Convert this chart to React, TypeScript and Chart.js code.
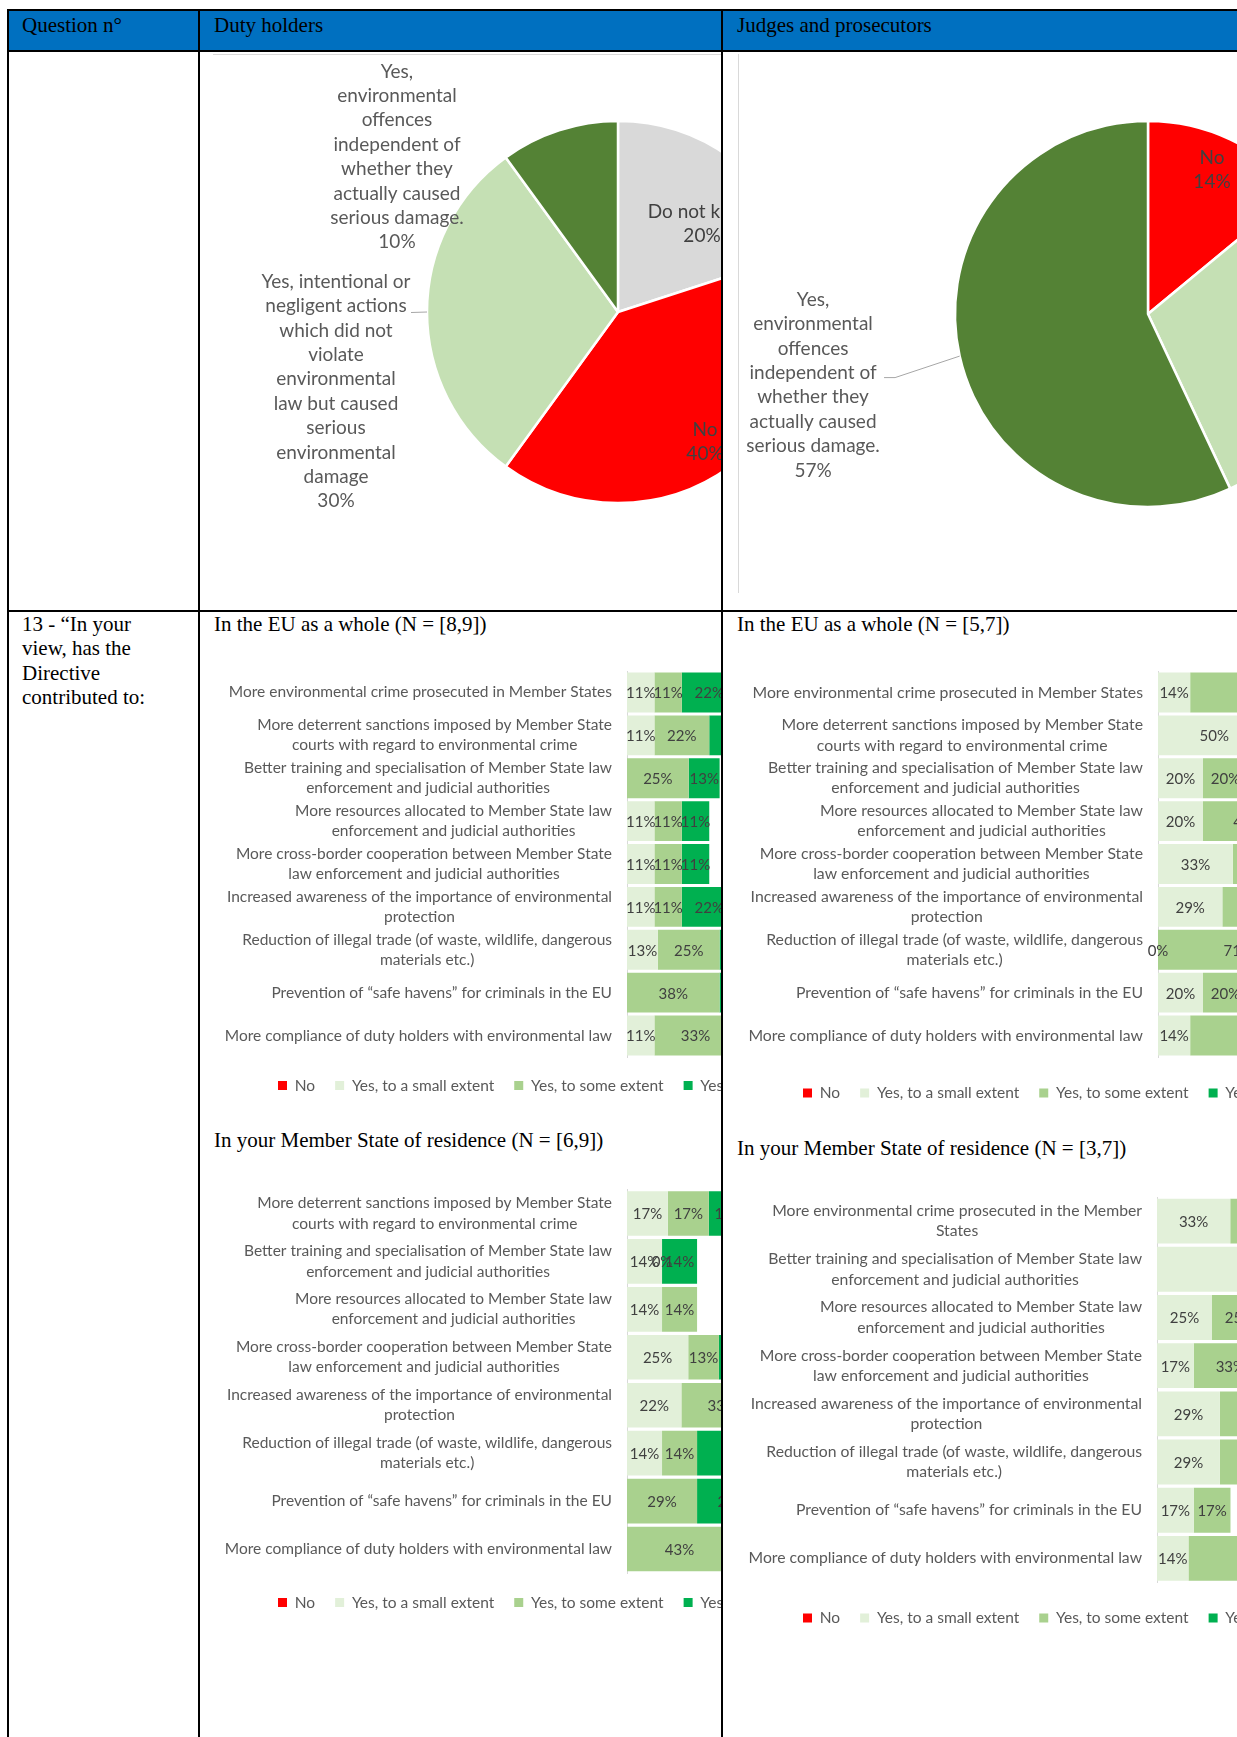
import React, { useEffect, useRef } from "react";
import { Chart, registerables } from "chart.js";

Chart.register(...registerables);

const SANS = "Lato, 'Open Sans', sans-serif";
const SERIF = "'Liberation Serif', 'Times New Roman', serif";

// ---------------- DATA ----------------
const PIE_DUTY_CATEGORIES = [
  "Do not know",
  "No",
  "Yes, intentional or negligent actions which did not violate environmental law but caused serious environmental damage",
  "Yes, environmental offences independent of whether they actually caused serious damage.",
];
const PIE_DUTY_VALUES = [20, 40, 30, 10];

const PIE_JUDGES_CATEGORIES = [
  "No",
  "Yes, intentional or negligent actions which did not violate environmental law but caused serious environmental damage",
  "Yes, environmental offences independent of whether they actually caused serious damage.",
];
const PIE_JUDGES_VALUES = [14, 29, 57];

const SERIES_NAMES = ["No", "Yes, to a small extent", "Yes, to some extent", "Yes, to a great extent"];

const CAT_PROSECUTED = "More environmental crime prosecuted in Member States";
const CAT_PROSECUTED_MS = ["More environmental crime prosecuted in the Member", "States"];
const CAT_DETERRENT = ["More deterrent sanctions imposed by Member State", "courts with regard to environmental crime"];
const CAT_TRAINING = ["Better training and specialisation of Member State law", "enforcement and judicial authorities"];
const CAT_RESOURCES = ["More resources allocated to Member State law", "enforcement and judicial authorities"];
const CAT_CROSSBORDER = ["More cross-border cooperation between Member State", "law enforcement and judicial authorities"];
const CAT_AWARENESS = ["Increased awareness of the importance of environmental", "protection"];
const CAT_TRADE = ["Reduction of illegal trade (of waste, wildlife, dangerous", "materials etc.)"];
const CAT_HAVENS = "Prevention of \u201csafe havens\u201d for criminals in the EU";
const CAT_COMPLIANCE = "More compliance of duty holders with environmental law";

const EU_CATEGORIES = [
  CAT_PROSECUTED, CAT_DETERRENT, CAT_TRAINING, CAT_RESOURCES, CAT_CROSSBORDER,
  CAT_AWARENESS, CAT_TRADE, CAT_HAVENS, CAT_COMPLIANCE,
];
const MS_DUTY_CATEGORIES = [
  CAT_DETERRENT, CAT_TRAINING, CAT_RESOURCES, CAT_CROSSBORDER,
  CAT_AWARENESS, CAT_TRADE, CAT_HAVENS, CAT_COMPLIANCE,
];
const MS_JUDGES_CATEGORIES = [
  CAT_PROSECUTED_MS, CAT_TRAINING, CAT_RESOURCES, CAT_CROSSBORDER,
  CAT_AWARENESS, CAT_TRADE, CAT_HAVENS, CAT_COMPLIANCE,
];

// Duty holders - EU as a whole (percent)
const EU_DUTY_NO = [null, null, null, null, null, null, null, null, null];
const EU_DUTY_SMALL = [11.1, 11.1, null, 11.1, 11.1, 11.1, 12.5, null, 11.1];
const EU_DUTY_SOME = [11.1, 22.2, 25, 11.1, 11.1, 11.1, 25, 37.5, 33.3];
const EU_DUTY_GREAT = [22.2, 22.2, 12.5, 11.1, 11.1, 22.2, 12.5, 12.5, 22.2];

// Judges and prosecutors - EU as a whole
const EU_JUDGES_NO = [null, null, null, null, null, null, null, null, null];
const EU_JUDGES_SMALL = [14.3, 50, 20, 20, 33.3, 28.6, 0, 20, 14.3];
const EU_JUDGES_SOME = [57.1, 25, 20, 40, 33.3, 42.9, 71.4, 20, 57.1];
const EU_JUDGES_GREAT = [14.3, 25, 40, 20, 16.7, 14.3, 14.3, 40, 14.3];

// Duty holders - Member State of residence
const MS_DUTY_NO = [null, null, null, null, null, null, null, null];
const MS_DUTY_SMALL = [16.7, 14.3, 14.3, 25, 22.2, 14.3, null, null];
const MS_DUTY_SOME = [16.7, 0, 14.3, 12.5, 33.3, 14.3, 28.6, 42.9];
const MS_DUTY_GREAT = [16.7, 14.3, null, 12.5, 11.1, 42.9, 28.6, 14.3];

// Judges and prosecutors - Member State of residence
const MS_JUDGES_NO = [null, null, null, null, null, null, null, null];
const MS_JUDGES_SMALL = [33.3, 100, 25, 16.7, 28.6, 28.6, 16.7, 14.3];
const MS_JUDGES_SOME = [33.3, null, 25, 33.3, 42.9, 42.9, 16.7, 57.1];
const MS_JUDGES_GREAT = [33.3, null, 25, 16.7, 14.3, 14.3, null, 14.3];

// ---------------- STYLES ----------------
const SERIES_COLORS = ["#FF0000", "#E2F0D9", "#A9D18E", "#00B050"];
const PIE_DUTY_COLORS = ["#D9D9D9", "#FF0000", "#C5E0B4", "#548235"];
const PIE_JUDGES_COLORS = ["#FF0000", "#C5E0B4", "#548235"];

const LINES_INTENTIONAL = ["Yes, intentional or", "negligent actions", "which did not", "violate", "environmental", "law but caused", "serious", "environmental", "damage"];
const LINES_OFFENCES = ["Yes,", "environmental", "offences", "independent of", "whether they", "actually caused", "serious damage."];

type LabelSpec = { lines: string[]; f: number; dx: number; dy: number; color: string; leader?: number[][] };

const PIE_DUTY_SPECS: LabelSpec[] = [
  { lines: ["Do not know"], f: 0, dx: 84, dy: -88, color: "#404040" },
  { lines: ["No"], f: 0, dx: 87, dy: 130, color: "#404040" },
  { lines: LINES_INTENTIONAL, f: 1, dx: -91, dy: 79.5, color: "#595959", leader: [[75, -79]] },
  { lines: LINES_OFFENCES, f: 1, dx: -162, dy: 26.6, color: "#595959" },
];
const PIE_JUDGES_SPECS: LabelSpec[] = [
  { lines: ["No"], f: 0, dx: 64, dy: -144, color: "#404040" },
  { lines: LINES_INTENTIONAL, f: 1, dx: 110, dy: 20, color: "#595959" },
  { lines: LINES_OFFENCES, f: 1, dx: -146.6, dy: 29, color: "#595959", leader: [[82, -7.5], [71, -7.5]] },
];

// ---------------- PLUGINS ----------------
function makePieLabels(specs: LabelSpec[]) {
  return {
    id: "pieLabels",
    afterDatasetsDraw(chart: any) {
      const ctx = chart.ctx;
      const meta = chart.getDatasetMeta(0);
      const values = chart.data.datasets[0].data;
      const lh = 24.4;
      meta.data.forEach((arc: any, i: number) => {
        const s = specs[i];
        if (!s) return;
        const p = arc.getProps(["x", "y", "startAngle", "endAngle", "outerRadius"], true);
        const mid = (p.startAngle + p.endAngle) / 2;
        const ex = p.x + Math.cos(mid) * p.outerRadius;
        const ey = p.y + Math.sin(mid) * p.outerRadius;
        const bx = p.x + Math.cos(mid) * p.outerRadius * s.f;
        const by = p.y + Math.sin(mid) * p.outerRadius * s.f;
        const ax = bx + s.dx;
        const ay = by + s.dy;
        ctx.save();
        if (s.leader) {
          ctx.strokeStyle = "#A6A6A6";
          ctx.lineWidth = 1;
          ctx.beginPath();
          ctx.moveTo(ex, ey);
          s.leader.forEach(([lx, ly]) => ctx.lineTo(ax + lx, ay + ly));
          ctx.stroke();
        }
        const lines = [...s.lines, `${values[i]}%`];
        ctx.font = `19px ${SANS}`;
        ctx.fillStyle = s.color;
        ctx.textAlign = "center";
        ctx.textBaseline = "middle";
        lines.forEach((ln, k) => ctx.fillText(ln, ax, ay + (k - (lines.length - 1) / 2) * lh));
        ctx.restore();
      });
    },
  };
}

const barValues = {
  id: "barValues",
  afterDatasetsDraw(chart: any) {
    const ctx = chart.ctx;
    ctx.save();
    ctx.font = `15px ${SANS}`;
    ctx.fillStyle = "#404040";
    ctx.textAlign = "center";
    ctx.textBaseline = "middle";
    chart.data.datasets.forEach((ds: any, di: number) => {
      const meta = chart.getDatasetMeta(di);
      meta.data.forEach((el: any, i: number) => {
        const v = ds.data[i];
        if (v === null || v === undefined) return;
        const p = el.getProps(["x", "y", "base"], true);
        ctx.fillText(`${Math.round(v)}%`, (p.x + p.base) / 2, p.y + 1);
      });
    });
    ctx.restore();
  },
};

// category labels: block right-aligned to the axis, lines centred within the block
function makeCatLabels(fontSize: number) {
  return {
    id: "catLabels",
    afterDraw(chart: any) {
      const ctx = chart.ctx;
      const ys = chart.scales.y;
      const gap = 15;
      const lh = 20.3;
      ctx.save();
      ctx.font = `${fontSize}px ${SANS}`;
      ctx.fillStyle = "#595959";
      ctx.textAlign = "center";
      ctx.textBaseline = "middle";
      const right = chart.chartArea.left - gap;
      (chart.data.labels as any[]).forEach((lab: any, i: number) => {
        const lines: string[] = Array.isArray(lab) ? lab : [lab];
        const w = Math.max(...lines.map((l) => ctx.measureText(l).width));
        const cx = right - w / 2;
        const y = ys.getPixelForValue(i);
        lines.forEach((l, k) => ctx.fillText(l, cx, y + (k - (lines.length - 1) / 2) * lh));
      });
      ctx.restore();
    },
  };
}

function makeLegendPlace(x: number, y: number) {
  return {
    id: "legendPlace",
    afterLayout(chart: any) {
      const lg = chart.legend;
      if (!lg) return;
      const pad = lg.options.labels.padding;
      const fs = lg.options.labels.font.size || 13;
      const itemH = Math.max(fs, lg.options.labels.boxHeight || fs);
      lg.left = x - pad;
      lg.width = 3000;
      lg.right = lg.left + 3000;
      lg.top = y - pad - itemH / 2;
      lg.height = itemH + pad * 2;
      lg.bottom = lg.top + lg.height;
    },
  };
}

// ---------------- COMPONENTS ----------------
type PieGeom = { left: number; top: number; width: number; height: number; cx: number; cy: number; r: number };

function PieChart({ categories, values, colors, specs, g, ox, oy }: any) {
  const ref = useRef<HTMLCanvasElement>(null);
  useEffect(() => {
    const bw = 2.5;
    const half = g.r + bw / 2;
    const chart = new Chart(ref.current as HTMLCanvasElement, {
      type: "pie",
      data: {
        labels: categories,
        datasets: [{ data: values, backgroundColor: colors, borderColor: "#ffffff", borderWidth: bw }],
      },
      options: {
        responsive: false,
        animation: false,
        layout: {
          padding: {
            left: g.cx - half - g.left,
            top: g.cy - half - g.top,
            right: g.left + g.width - (g.cx + half),
            bottom: g.top + g.height - (g.cy + half),
          },
        },
        plugins: { legend: { display: false }, tooltip: { enabled: false } },
      },
      plugins: [makePieLabels(specs)],
    } as any);
    return () => chart.destroy();
  }, []);
  return (
    <canvas
      ref={ref}
      width={g.width}
      height={g.height}
      style={{ position: "absolute", left: g.left - ox, top: g.top - oy, width: g.width, height: g.height }}
    />
  );
}

type BarGeom = {
  left: number; top: number; width: number; height: number;
  plotLeft: number; plotRight: number; plotTop: number; plotBottom: number;
  legendX: number; legendY: number; labelSize: number;
};

function StackedBar({ categories, series, g, ox, oy }: { categories: any[]; series: any[][]; g: BarGeom; ox: number; oy: number }) {
  const ref = useRef<HTMLCanvasElement>(null);
  useEffect(() => {
    const yW = g.plotLeft - g.left;
    const wantTop = g.plotTop - g.top;
    const wantBottom = g.plotBottom - g.top;
    const wantRight = g.plotRight - g.left;
    const chart: any = new Chart(ref.current as HTMLCanvasElement, {
      type: "bar",
      data: {
        labels: categories,
        datasets: series.map((s, i) => ({
          label: SERIES_NAMES[i],
          data: s,
          backgroundColor: SERIES_COLORS[i],
          borderWidth: 0,
          barPercentage: 0.93,
          categoryPercentage: 1,
        })),
      },
      options: {
        indexAxis: "y",
        responsive: false,
        animation: false,
        layout: { padding: { left: 0, top: wantTop, right: g.width - wantRight, bottom: g.height - wantBottom - 47 } },
        scales: {
          x: { stacked: true, min: 0, max: 100, display: false },
          y: {
            stacked: true,
            grid: { display: false, drawTicks: false },
            border: { display: true, color: "#D9D9D9", width: 1 },
            ticks: { display: false, autoSkip: false },
            afterFit: (s: any) => { s.width = yW; },
          },
        },
        plugins: {
          legend: {
            position: "bottom",
            align: "start",
            labels: { boxWidth: 9, boxHeight: 9, padding: 20, color: "#595959", font: { family: SANS, size: 15.5 } },
          },
          tooltip: { enabled: false },
        },
      },
      plugins: [barValues, makeCatLabels(g.labelSize), makeLegendPlace(g.legendX - g.left, g.legendY - g.top)],
    } as any);
    const ca = chart.chartArea;
    const pad = { left: 0, top: wantTop, right: g.width - wantRight, bottom: g.height - wantBottom - 47 };
    pad.top += wantTop - ca.top;
    pad.bottom += ca.bottom - wantBottom;
    pad.right += ca.right - wantRight;
    chart.options.layout.padding = pad;
    chart.update();
    return () => chart.destroy();
  }, []);
  return (
    <canvas
      ref={ref}
      width={g.width}
      height={g.height}
      style={{ position: "absolute", left: g.left - ox, top: g.top - oy, width: g.width, height: g.height }}
    />
  );
}

function Clip({ x, y, w, h, children }: any) {
  return <div style={{ position: "absolute", left: x, top: y, width: w, height: h, overflow: "hidden" }}>{children}</div>;
}

function Txt({ x, y, children, size = 21 }: any) {
  return (
    <div style={{ position: "absolute", left: x, top: y, fontFamily: SERIF, fontSize: size, lineHeight: "24.3px", color: "#000", whiteSpace: "nowrap" }}>
      {children}
    </div>
  );
}

function Line({ x, y, w, h, c = "#000" }: any) {
  return <div style={{ position: "absolute", left: x, top: y, width: w, height: h, background: c }} />;
}

const PIE_DUTY_GEOM: PieGeom = { left: 213, top: 55, width: 700, height: 540, cx: 618, cy: 312, r: 191 };
const PIE_JUDGES_GEOM: PieGeom = { left: 739, top: 55, width: 700, height: 540, cx: 1148, cy: 314, r: 193 };

const BAR_A: BarGeom = { left: 205, top: 640, width: 900, height: 480, plotLeft: 627, plotRight: 874, plotTop: 671, plotBottom: 1057, legendX: 278, legendY: 1085.5, labelSize: 15.5 };
const BAR_B: BarGeom = { left: 727, top: 640, width: 800, height: 480, plotLeft: 1158, plotRight: 1383, plotTop: 671, plotBottom: 1057, legendX: 803, legendY: 1093, labelSize: 15.8 };
const BAR_C: BarGeom = { left: 205, top: 1160, width: 900, height: 480, plotLeft: 627, plotRight: 872, plotTop: 1189.5, plotBottom: 1573, legendX: 278, legendY: 1602.5, labelSize: 15.5 };
const BAR_D: BarGeom = { left: 727, top: 1170, width: 800, height: 480, plotLeft: 1157, plotRight: 1377, plotTop: 1197, plotBottom: 1582.5, legendX: 803, legendY: 1618, labelSize: 15.75 };

export default function App() {
  return (
    <div style={{ position: "absolute", left: 0, top: 0, width: 1237, height: 1737, overflow: "hidden", background: "#fff" }}>
      {/* header band */}
      <Line x={8} y={10} w={1240} h={41} c="#0070C0" />
      <Txt x={22} y={13}>Question n°</Txt>
      <Txt x={214} y={13}>Duty holders</Txt>
      <Txt x={737} y={13}>Judges and prosecutors</Txt>

      {/* row 1: pies */}
      <Clip x={200} y={52} w={521} h={558}>
        <Line x={13} y={2} w={520} h={1} c="#D9D9D9" />
        <PieChart categories={PIE_DUTY_CATEGORIES} values={PIE_DUTY_VALUES} colors={PIE_DUTY_COLORS} specs={PIE_DUTY_SPECS} g={PIE_DUTY_GEOM} ox={200} oy={52} />
      </Clip>
      <Clip x={723} y={52} w={514} h={558}>
        <Line x={15} y={2} w={1} h={539} c="#D9D9D9" />
        <PieChart categories={PIE_JUDGES_CATEGORIES} values={PIE_JUDGES_VALUES} colors={PIE_JUDGES_COLORS} specs={PIE_JUDGES_SPECS} g={PIE_JUDGES_GEOM} ox={723} oy={52} />
      </Clip>

      {/* row 2 */}
      <Txt x={22} y={612}>
        13 - “In your<br />view, has the<br />Directive<br />contributed to:
      </Txt>
      <Txt x={214} y={612}>In the EU as a whole (N = [8,9])</Txt>
      <Txt x={214} y={1128}>In your Member State of residence (N = [6,9])</Txt>
      <Txt x={737} y={612}>In the EU as a whole (N = [5,7])</Txt>
      <Txt x={737} y={1136}>In your Member State of residence (N = [3,7])</Txt>

      <Clip x={200} y={612} w={521} h={1125}>
        <StackedBar categories={EU_CATEGORIES} series={[EU_DUTY_NO, EU_DUTY_SMALL, EU_DUTY_SOME, EU_DUTY_GREAT]} g={BAR_A} ox={200} oy={612} />
        <StackedBar categories={MS_DUTY_CATEGORIES} series={[MS_DUTY_NO, MS_DUTY_SMALL, MS_DUTY_SOME, MS_DUTY_GREAT]} g={BAR_C} ox={200} oy={612} />
      </Clip>
      <Clip x={723} y={612} w={514} h={1125}>
        <StackedBar categories={EU_CATEGORIES} series={[EU_JUDGES_NO, EU_JUDGES_SMALL, EU_JUDGES_SOME, EU_JUDGES_GREAT]} g={BAR_B} ox={723} oy={612} />
        <StackedBar categories={MS_JUDGES_CATEGORIES} series={[MS_JUDGES_NO, MS_JUDGES_SMALL, MS_JUDGES_SOME, MS_JUDGES_GREAT]} g={BAR_D} ox={723} oy={612} />
      </Clip>

      {/* table borders */}
      <Line x={7} y={9} w={1240} h={2} />
      <Line x={7} y={50} w={1240} h={2} />
      <Line x={7} y={610} w={1240} h={2} />
      <Line x={7} y={9} w={2} h={1740} />
      <Line x={198} y={9} w={2} h={1740} />
      <Line x={721} y={9} w={2} h={1740} />
    </div>
  );
}
